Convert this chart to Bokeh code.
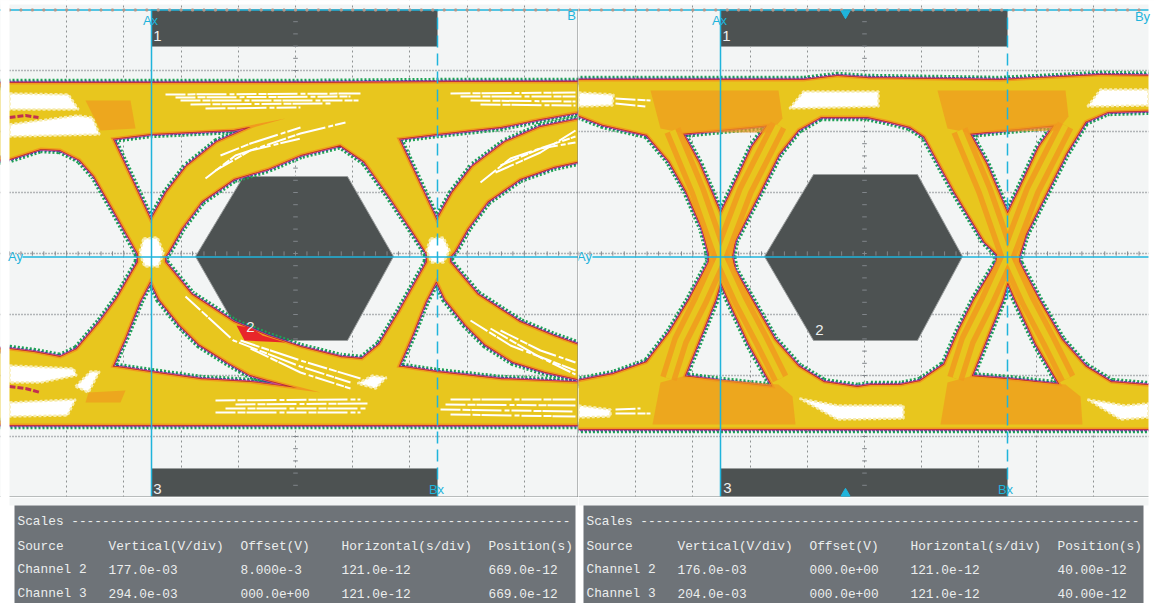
import numpy as np
from bokeh.plotting import figure
from bokeh.layouts import row, column
from bokeh.models import Range1d, FixedTicker
from bokeh.core.properties import value
from bokeh.embed import file_html
from bokeh.resources import INLINE

# ---------- readings from the picture: (screen x, screen y), converted to divisions below ----------
L_TOP = [(-20, 84), (150, 84), (300, 84), (450, 83), (600, 83)]
L_BOT = [(600, 423), (450, 423), (300, 423), (150, 423), (-20, 423)]
L_H_OUTER_L = [(-10, 160), (9, 157), (40, 147), (60, 148), (80, 158), (95, 175), (115, 210), (139, 253),
               (139, 262), (117, 300), (100, 323), (77, 350), (60, 358), (33, 353), (9, 350), (-10, 349)]
L_H_UP1 = [(110, 137), (151, 132), (233, 128), (285, 118), (253, 127), (217, 143), (187, 167), (167, 193),
           (150, 223), (130, 180)]
L_H_LOW1 = [(150, 277), (138, 300), (124, 335), (110, 367), (150, 373), (200, 380), (250, 383), (320, 392),
            (267, 378), (250, 373), (227, 360), (200, 343), (180, 323), (160, 298)]
L_H_EYE = [(163, 256), (167, 250), (180, 227), (200, 200), (233, 177), (267, 167), (300, 153), (340, 143),
           (365, 160), (390, 195), (410, 225), (428, 253), (428, 262), (400, 312), (380, 345), (362, 360),
           (340, 358), (300, 348), (267, 337), (233, 323), (190, 295), (163, 262)]
L_H_UP2 = [(396, 137), (437, 132), (500, 125), (540, 117), (590, 108), (590, 118), (540, 128), (505, 143),
           (473, 167), (453, 193), (436, 223), (416, 180)]
L_H_LOW2 = [(436, 277), (424, 300), (410, 335), (396, 367), (436, 373), (500, 380), (590, 384), (590, 380),
            (545, 370), (513, 360), (486, 343), (466, 323), (446, 298)]
L_H_OUTER_R = [(448, 256), (453, 250), (466, 227), (486, 200), (519, 177), (553, 165), (590, 157), (590, 350),
               (553, 337), (519, 323), (476, 295), (448, 262)]
L_WHITE = [
    [(9, 93), (68, 94), (78, 109), (9, 109)],
    [(9, 124), (77, 115), (92, 117), (99, 134), (9, 136)],
    [(9, 365), (73, 368), (76, 375), (40, 382), (9, 382)],
    [(9, 402), (75, 399), (67, 415), (9, 416)],
    [(75, 386), (90, 371), (99, 371), (88, 392)],
    [(143, 238), (157, 237), (163, 252), (158, 266), (144, 266), (139, 252)],
    [(430, 238), (443, 237), (449, 250), (443, 262), (431, 262), (426, 250)],
    [(357, 383), (372, 375), (386, 377), (375, 388)],
]
L_WHITE_LINES = [
    [(165, 94), (360, 93)], [(175, 97), (350, 96)], [(180, 100), (358, 100)], [(190, 104), (330, 103)],
    [(205, 108), (300, 107)],
    [(450, 93), (575, 92)], [(460, 96), (575, 96)], [(470, 100), (575, 101)], [(480, 104), (575, 105)],
    [(215, 400), (360, 399)], [(235, 404), (370, 403)], [(225, 408), (365, 408)], [(215, 412), (360, 412)],
    [(450, 399), (575, 399)], [(445, 404), (575, 405)], [(440, 409), (575, 411)], [(450, 414), (575, 416)],
    [(205, 178), (235, 155), (300, 133), (345, 122)], [(220, 155), (250, 143), (300, 127)],
    [(215, 170), (250, 150), (300, 138)],
    [(480, 182), (510, 158), (575, 136)], [(500, 165), (540, 148), (575, 142)], [(495, 172), (540, 152), (575, 130)],
    [(185, 296), (233, 340), (300, 366), (350, 382)], [(250, 348), (300, 372), (350, 388)],
    [(240, 340), (300, 360), (360, 378)],
    [(470, 320), (510, 345), (575, 370)], [(500, 330), (540, 350), (575, 362)], [(490, 328), (540, 357), (575, 374)],
]
L_ORANGE = [[(85, 100), (130, 100), (135, 128), (100, 130)], [(88, 392), (125, 390), (120, 402), (85, 402)]]
L_DARK = [[(9, 117), (25, 115), (38, 117)], [(9, 386), (25, 388), (40, 392)]]
L_RED = [(236, 325), (244, 340), (285, 342), (262, 335), (250, 327)]

R_TOP = [(560, 81), (720, 81), (803, 81), (837, 77), (867, 79), (1000, 81), (1100, 76), (1170, 77)]
R_BOT = [(1170, 427), (840, 427), (720, 427), (560, 427)]
R_H_OUTER_L = [(560, 108), (577, 113), (603, 123), (647, 133), (670, 160), (687, 190), (703, 227), (710, 253),
               (710, 262), (690, 300), (670, 333), (647, 363), (613, 375), (577, 382), (560, 384)]
R_H_UP1 = [(680, 132), (720, 128), (770, 123), (753, 147), (733, 190), (720, 217), (697, 163)]
R_H_LOW1 = [(720, 277), (713, 300), (682, 377), (720, 382), (775, 388), (750, 343), (730, 300)]
R_H_EYE = [(730, 256), (733, 240), (757, 193), (777, 153), (797, 128), (820, 115), (867, 115), (890, 120),
           (910, 125), (925, 135), (955, 190), (985, 240), (998, 253), (998, 262), (975, 300), (960, 330),
           (945, 365), (920, 382), (900, 386), (870, 386), (857, 388), (823, 383), (797, 367), (773, 340),
           (750, 300), (733, 270)]
R_H_UP2 = [(967, 132), (1007, 128), (1057, 123), (1040, 147), (1020, 190), (1007, 217), (984, 163)]
R_H_LOW2 = [(1007, 277), (1000, 300), (969, 377), (1007, 380), (1062, 386), (1037, 343), (1017, 300)]
R_H_OUTER_R = [(1017, 256), (1024, 233), (1044, 193), (1064, 153), (1084, 120), (1107, 110), (1170, 108),
               (1170, 388), (1110, 383), (1084, 367), (1060, 340), (1037, 300), (1017, 262)]
R_ORANGE = [
    [(650, 90), (778, 90), (782, 118), (770, 132), (680, 132), (660, 128)],
    [(937, 90), (1065, 90), (1068, 116), (1057, 130), (967, 132), (947, 128)],
    [(652, 424), (795, 424), (792, 396), (778, 384), (682, 376), (660, 382)],
    [(940, 424), (1082, 424), (1080, 396), (1065, 384), (969, 376), (947, 382)],
]
R_ARMS = [
    [(672, 130), (697, 190), (720, 256), (740, 300), (761, 340), (780, 378)],
    [(778, 125), (745, 190), (720, 256), (700, 300), (680, 340), (668, 378)],
    [(959, 130), (984, 190), (1007, 256), (1027, 300), (1048, 340), (1067, 378)],
    [(1065, 125), (1032, 190), (1007, 256), (987, 300), (967, 340), (955, 378)],
]
R_WHITE = [
    [(578, 92), (613, 94), (612, 105), (578, 106)],
    [(789, 108), (803, 91), (878, 91), (878, 106)],
    [(1087, 106), (1100, 89), (1148, 89), (1148, 105)],
    [(578, 405), (610, 409), (610, 416), (578, 417)],
    [(799, 398), (837, 405), (903, 405), (903, 418), (837, 419)],
    [(1087, 399), (1125, 405), (1148, 403), (1148, 417), (1120, 419)],
]
R_WHITE_LINES = [[(615, 98), (650, 100)], [(615, 103), (645, 106)], [(615, 413), (650, 413)], [(615, 409), (640, 408)]]

# mask regions (screen readings)
L_MASK_1 = [(151, 9), (437, 9), (437, 46), (151, 46)]
L_MASK_3 = [(151, 468), (437, 468), (437, 497), (151, 497)]
L_MASK_2 = [(195, 256), (243, 176), (347, 176), (393, 256), (347, 340), (243, 340)]
R_MASK_1 = [(720, 9), (1007, 9), (1007, 46), (720, 46)]
R_MASK_3 = [(720, 468), (1007, 468), (1007, 497), (720, 497)]
R_MASK_2 = [(764, 256), (813, 174), (917, 174), (962, 256), (917, 340), (813, 340)]

# table
TABLE_HEAD = ["Source", "Vertical(V/div)", "Offset(V)", "Horizontal(s/div)", "Position(s)"]
TABLE_L = [["Channel 2", "177.0e-03", "8.000e-3", "121.0e-12", "669.0e-12"],
           ["Channel 3", "294.0e-03", "000.0e+00", "121.0e-12", "669.0e-12"]]
TABLE_R = [["Channel 2", "176.0e-03", "000.0e+00", "121.0e-12", "40.00e-12"],
           ["Channel 3", "204.0e-03", "000.0e+00", "121.0e-12", "40.00e-12"]]
TABLE_TITLE = "Scales " + "-" * 65

BG = "#f3f5f5"
MASK = "#4d5252"
CYAN = "#1fb4dc"
YELLOW = "#e8c61e"
ORANGE = "#f09a1e"


def vy(py):
    return (253.0 - np.asarray(py, float)) / 61.0


def make_panel(x0, x1, origin):
    def tx(px):
        return (np.asarray(px, float) - origin) / 57.2
    p = figure(width=x1 - x0, height=497, output_backend="svg", toolbar_location=None,
               x_range=Range1d(float(tx(x0)), float(tx(x1))), y_range=Range1d(-4.0, 253 / 61.0),
               min_border=0, background_fill_color=BG, border_fill_color="white", outline_line_color=None)
    p.xaxis.visible = False
    p.yaxis.visible = False
    p.xgrid.ticker = FixedTicker(ticks=list(range(1, 10)))
    p.ygrid.ticker = FixedTicker(ticks=list(range(-3, 4)))
    p.xgrid.grid_line_color = "#8e9292"
    p.xgrid.grid_line_dash = "2 3"
    p.ygrid.grid_line_color = "#70757a"
    p.ygrid.grid_line_dash = "1 2"
    p.xgrid.grid_line_width = 1
    p.ygrid.grid_line_width = 1.6
    return p, tx


def xy(points, tx):
    a = np.array(points, float)
    return tx(a[:, 0]).tolist(), vy(a[:, 1]).tolist()


def draw(p, tx, masks, top, bot, holes, orange, arms, white, white_lines, dark, red=None):
    for m in masks:
        x, y = xy(m, tx)
        p.patch(x, y, fill_color=MASK, line_color="#9a9e9e", line_width=1)
    hx = np.arange(0, 10.01, 0.2)
    p.segment(hx, -0.035, hx, 0.035, line_color="#80858a", line_width=1)
    vyy = np.arange(-4, 4.01, 0.2)
    p.segment(5 - 0.04, vyy, 5 + 0.04, vyy, line_color="#80858a", line_width=1)
    ex, ey = xy(top + bot, tx)
    hs = [xy(h, tx) for h in holes]
    xs = [[[ex] + [h[0] for h in hs]]]
    ys = [[[ey] + [h[1] for h in hs]]]
    for col, w, dash in [("#1fa356", 11.5, "2 2"), ("#2b3f9e", 7.4, "3 1"), ("#d24f8c", 6, "solid"),
                         ("#b5272e", 4.6, "solid"), (ORANGE, 3.2, "solid")]:
        p.multi_polygons(xs, ys, fill_alpha=0, line_color=col, line_width=w, line_dash=dash)
    p.multi_polygons(xs, ys, fill_color=YELLOW, line_alpha=0)
    for o in orange:
        x, y = xy(o, tx)
        p.patch(x, y, fill_color=ORANGE, fill_alpha=0.7, line_alpha=0)
    for a in arms:
        x, y = xy(a, tx)
        p.line(x, y, line_color=ORANGE, line_width=17, line_alpha=0.85)
    for a in arms:
        x, y = xy(a, tx)
        p.line(x, y, line_color=YELLOW, line_width=6)
    for w in white:
        x, y = xy(w, tx)
        p.patch(x, y, fill_color="white", line_color="#f7ecae", line_width=2.5, line_dash="3 2")
    for w in white_lines:
        x, y = xy(w, tx)
        p.line(x, y, line_color="white", line_width=2, line_dash="20 2 8 1 30 3 5 2")
    for d in dark:
        x, y = xy(d, tx)
        p.line(x, y, line_color="#c2304f", line_width=3, line_dash="6 2")
    if red:
        x, y = xy(red, tx)
        p.patch(x, y, fill_color="#e8262a", line_alpha=0)


def labels(p, tx, pts, txt, color, size, font="Liberation Sans"):
    a = np.array(pts, float)
    p.text(tx(a[:, 0]), vy(a[:, 1]), text=txt, text_color=color, text_font_size=size,
           text_font=value(font), text_align="center", text_baseline="middle")


def cursors(p, tx, ax, bx, ay_start):
    p.line([float(tx(ax))] * 2, [-4, float(vy(9))], line_color=CYAN, line_width=1.5)
    p.line([float(tx(bx))] * 2, [-4, float(vy(9))], line_color=CYAN, line_width=1.5, line_dash="12 6")
    p.line([float(tx(ay_start)), 11], [float(vy(256.5))] * 2, line_color=CYAN, line_width=1.6)
    p.line([-1, 11], [float(vy(9.5))] * 2, line_color=CYAN, line_width=1.6)
    p.line([-1, 11], [-3.99, -3.99], line_color="#a4a8a8", line_width=1.5)
    tk = np.arange(0, 10.01, 0.2)
    p.scatter(tk, [float(vy(9.5))] * len(tk), marker="square", size=2, color="#b39a8e")


def blank(p, tx, left, right):
    # page colour around the scope area
    p.quad(left=[float(tx(left[0]))], right=[float(tx(left[1]))], top=[5], bottom=[-5], fill_color="white", line_alpha=0)
    p.quad(left=[float(tx(right[0]))], right=[float(tx(right[1]))], top=[5], bottom=[-5], fill_color="white", line_alpha=0)
    p.quad(left=[-2], right=[12], top=[5], bottom=[float(vy(4))], fill_color="white", line_alpha=0)


# left panel
pl, txl = make_panel(0, 578, 9)
draw(pl, txl, [L_MASK_1, L_MASK_2, L_MASK_3], L_TOP, L_BOT,
     [L_H_OUTER_L, L_H_UP1, L_H_LOW1, L_H_EYE, L_H_UP2, L_H_LOW2, L_H_OUTER_R],
     L_ORANGE, [], L_WHITE, L_WHITE_LINES, L_DARK, L_RED)
cursors(pl, txl, 151, 437, 22)
blank(pl, txl, (0, 9), (578, 580))
pl.line([float(txl(577.5))] * 2, [-4, float(vy(9))], line_color="#777b7b", line_width=1)
labels(pl, txl, [(157, 35), (250, 326), (157, 488)], ["1", "2", "3"], "#eef0f0", "15px")
labels(pl, txl, [(150, 20), (571, 15), (436, 489), (15, 256)], ["Ax", "B", "Bx", "Ay"], CYAN, "13px")

# right panel
pr, txr = make_panel(578, 1154, 578)
draw(pr, txr, [R_MASK_1, R_MASK_2, R_MASK_3], R_TOP, R_BOT,
     [R_H_OUTER_L, R_H_UP1, R_H_LOW1, R_H_EYE, R_H_UP2, R_H_LOW2, R_H_OUTER_R],
     R_ORANGE, R_ARMS, R_WHITE, R_WHITE_LINES, [])
cursors(pr, txr, 720, 1007, 592)
blank(pr, txr, (570, 578), (1148, 1160))
pr.scatter([float(txr(845))], [float(vy(13))], marker="inverted_triangle", size=9, color=CYAN)
pr.scatter([float(txr(845))], [float(vy(493))], marker="triangle", size=9, color=CYAN)
labels(pr, txr, [(726, 35), (819, 329), (727, 487)], ["1", "2", "3"], "#eef0f0", "15px")
labels(pr, txr, [(719, 20), (1142, 16), (1005, 489), (584, 256)], ["Ax", "By", "Bx", "Ay"], CYAN, "13px")

# tables
COL_X = [17, 108, 240, 341, 488]
ROW_Y = [569, 593]


def make_table(x0, x1, bx0, bx1, shift, rows):
    t = figure(width=x1 - x0, height=106, output_backend="svg", toolbar_location=None,
               x_range=Range1d(x0, x1), y_range=Range1d(603, 497), min_border=0,
               background_fill_color="white", outline_line_color=None)
    t.axis.visible = False
    t.grid.visible = False
    t.quad(left=[max(x0, 9)], right=[min(x1, 1148)], top=[497], bottom=[505], fill_color=BG, line_alpha=0)
    t.quad(left=[bx0], right=[bx1], top=[505], bottom=[603], fill_color="#6e7378", line_alpha=0)
    xs, ys, tx_ = [COL_X[0] + shift], [521], [TABLE_TITLE]
    for c, h in zip(COL_X, TABLE_HEAD):
        xs.append(c + shift); ys.append(546); tx_.append(h)
    for ry, r in zip(ROW_Y, rows):
        for c, v in zip(COL_X, r):
            xs.append(c + shift); ys.append(ry); tx_.append(v)
    t.text(xs, ys, text=tx_, text_color="#eceeee", text_font_size="12.8px",
           text_font=value("Liberation Mono"), text_align="left", text_baseline="middle")
    return t


tl = make_table(0, 578, 14, 575, 0, TABLE_L)
tr = make_table(578, 1154, 583, 1143, 569, TABLE_R)

page = column(row(pl, pr), row(tl, tr))
open("out.html", "w").write(file_html(page, INLINE))
